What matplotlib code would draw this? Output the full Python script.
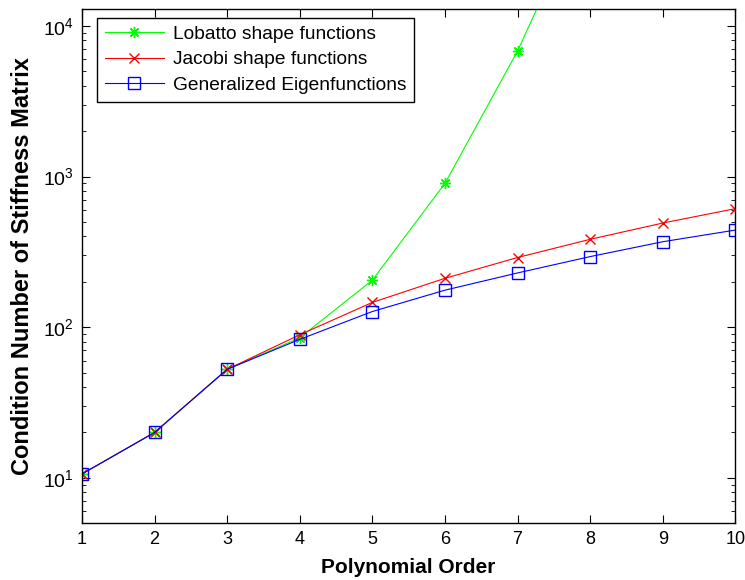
import numpy as np
import matplotlib.pyplot as plt

plt.rcParams['font.family'] = ['Liberation Sans', 'DejaVu Sans']
plt.rcParams['mathtext.fontset'] = 'custom'
plt.rcParams['mathtext.rm'] = 'Liberation Sans'

# polynomial order
order = [1, 2, 3, 4, 5, 6, 7, 8, 9, 10]
order_lobatto = [1, 2, 3, 4, 5, 6, 7, 8]

# condition numbers of the stiffness matrix
cond_lobatto = [10.6, 20, 52.5, 85, 205, 900, 6800, 77000]
cond_jacobi = [10.6, 20, 52.5, 89, 146, 211, 290, 383, 491, 612]
cond_eigen = [10.6, 20, 52.5, 83, 127, 176, 229, 294, 369, 441]

fig = plt.figure(figsize=(7.45, 5.8), dpi=100)
ax = fig.add_axes([0.110, 0.098, 0.877, 0.887])

ax.plot(order_lobatto, cond_lobatto, color=(0, 1, 0), lw=0.8,
        marker=(8, 2, 0), ms=8, mew=1.0, label='Lobatto shape functions')
ax.plot(order, cond_jacobi, color=(1, 0, 0), lw=0.8,
        marker='x', ms=7, mew=1.0, label='Jacobi shape functions')
ax.plot(order, cond_eigen, color=(0, 0, 1), lw=0.8,
        marker='s', ms=8.5, mew=1.0, mfc='none', label='Generalized Eigenfunctions')

ax.set_yscale('log')
ax.set_xlim(1, 10)
ax.set_ylim(5, 1.3e4)
ax.set_xticks(order)
ax.tick_params(which='both', direction='in', top=True, right=True,
               labelsize=13, colors='black')
ax.tick_params(axis='y', labelsize=14)
ax.tick_params(which='major', length=6, pad=6)
ax.tick_params(which='minor', length=3)
ax.xaxis.set_minor_locator(plt.NullLocator())
for s in ax.spines.values():
    s.set_linewidth(1.0)

ax.set_xlabel('Polynomial Order', fontsize=15, fontweight='bold', labelpad=7)
ax.set_ylabel('Condition Number of Stiffness Matrix', fontsize=17,
              fontweight='bold', labelpad=6)

leg = ax.legend(loc='upper left', bbox_to_anchor=(0.023, 0.9825),
                borderaxespad=0, fontsize=13.8, handlelength=3.1,
                handletextpad=0.45, fancybox=False, framealpha=1,
                edgecolor='black', labelspacing=0.43, borderpad=0.4)
leg.get_frame().set_linewidth(1.0)

fig.savefig('out.png', dpi=100)
